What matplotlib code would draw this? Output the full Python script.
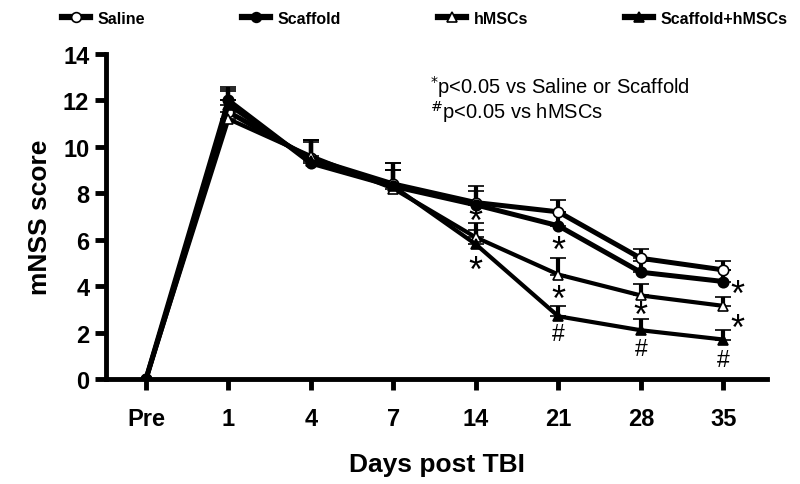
import numpy as np
import matplotlib
matplotlib.use("Agg")
import matplotlib.pyplot as plt
from matplotlib.lines import Line2D

# --- data ---
days = ["Pre", "1", "4", "7", "14", "21", "28", "35"]

saline = [0, 11.5, 9.5, 8.4, 7.6, 7.2, 5.2, 4.7]
saline_err = [0, 0.9, 0.8, 0.9, 0.7, 0.5, 0.4, 0.4]

scaffold = [0, 12.0, 9.3, 8.3, 7.5, 6.6, 4.6, 4.2]
scaffold_err = [0, 0.6, 1.0, 1.0, 0.6, 0.6, 0.5, 0.5]

hmscs = [0, 11.2, 9.6, 8.2, 6.1, 4.5, 3.6, 3.15]
hmscs_err = [0, 0.8, 0.7, 0.8, 0.6, 0.7, 0.5, 0.4]

combo = [0, 11.8, 9.4, 8.3, 5.8, 2.7, 2.1, 1.7]
combo_err = [0, 0.7, 0.8, 0.7, 0.6, 0.45, 0.5, 0.4]

# significance marks: (x index, y value, symbol, x offset)
marks = [
    (4, 7.05, "*", 0.0), (4, 4.95, "*", 0.0),
    (5, 5.8, "*", 0.0), (5, 3.7, "*", 0.0), (5, 1.95, "#", 0.0),
    (6, 3.0, "*", 0.0), (6, 1.3, "#", 0.0),
    (7, 3.9, "*", 0.17), (7, 2.45, "*", 0.17), (7, 0.85, "#", 0.0),
]

fig = plt.figure(figsize=(8, 4.85), dpi=100)
ax = fig.add_axes([106 / 800, 1 - 380 / 485, (767 - 106) / 800, (380 - 55) / 485])

x = np.arange(len(days))
series = [
    ("Saline", saline, saline_err, "o", "white", 3.6),
    ("Scaffold", scaffold, scaffold_err, "o", "black", 3.6),
    ("hMSCs", hmscs, hmscs_err, "^", "white", 3.0),
    ("Scaffold+hMSCs", combo, combo_err, "^", "black", 3.0),
]

handles = []
for name, y, err, mk, fc, lw in series:
    lower = np.zeros(len(err))
    ax.errorbar(x, y, yerr=[lower, err], fmt="-", marker=mk, color="black",
                mfc=fc, mec="black", mew=1.2, ms=7.5, lw=lw,
                elinewidth=3, capsize=6, capthick=4)
    handles.append(Line2D([], [], color="black", lw=4.5, marker=mk, mfc=fc,
                          mec="black", mew=1.2, ms=7, label=name))

# asterisk glyph sits high in its text box, so nudge it down
for xi, yv, sym, dx in marks:
    if sym == "*":
        ax.text(xi + dx, yv - 0.3, sym, ha="center", va="center",
                fontsize=26, family="Liberation Sans")
    else:
        ax.text(xi + dx, yv, sym, ha="center", va="center",
                fontsize=16.5, family="Liberation Sans")

ax.set_xlim(-0.485, 7.53)
ax.set_ylim(0, 14)
ax.set_xticks(x)
ax.set_xticklabels(days)
ax.set_yticks(np.arange(0, 15, 2))

for s in ["top", "right"]:
    ax.spines[s].set_visible(False)
ax.spines["left"].set_linewidth(3.5)
ax.spines["bottom"].set_linewidth(3.5)
ax.tick_params(axis="both", width=3.5, length=8, direction="out")
ax.tick_params(axis="x", pad=12)
ax.tick_params(axis="y", pad=4)
for lab in ax.get_xticklabels() + ax.get_yticklabels():
    lab.set_fontfamily("Liberation Sans")
    lab.set_fontweight("bold")
    lab.set_fontsize(17)

ax.set_xlabel("Days post TBI", fontsize=19, fontweight="bold",
              family="Liberation Sans", labelpad=16)
ax.set_ylabel("mNSS score", fontsize=19, fontweight="bold",
              family="Liberation Sans", labelpad=8)

ax.text(0.49, 0.9, r"$^{*}$p<0.05 vs Saline or Scaffold", transform=ax.transAxes,
        fontsize=14.5, family="Liberation Sans", va="center")
ax.text(0.49, 0.825, r"$^{\#}$p<0.05 vs hMSCs", transform=ax.transAxes,
        fontsize=14.5, family="Liberation Sans", va="center")

fig.legend(handles=handles, loc="center left", bbox_to_anchor=(56 / 800, 1 - 19 / 485),
           ncol=4, frameon=False, handlelength=1.7, columnspacing=6.1,
           handletextpad=0.5, borderaxespad=0,
           prop={"family": "Liberation Sans", "weight": "bold", "size": 11.5})

fig.savefig("out.png", dpi=100)
